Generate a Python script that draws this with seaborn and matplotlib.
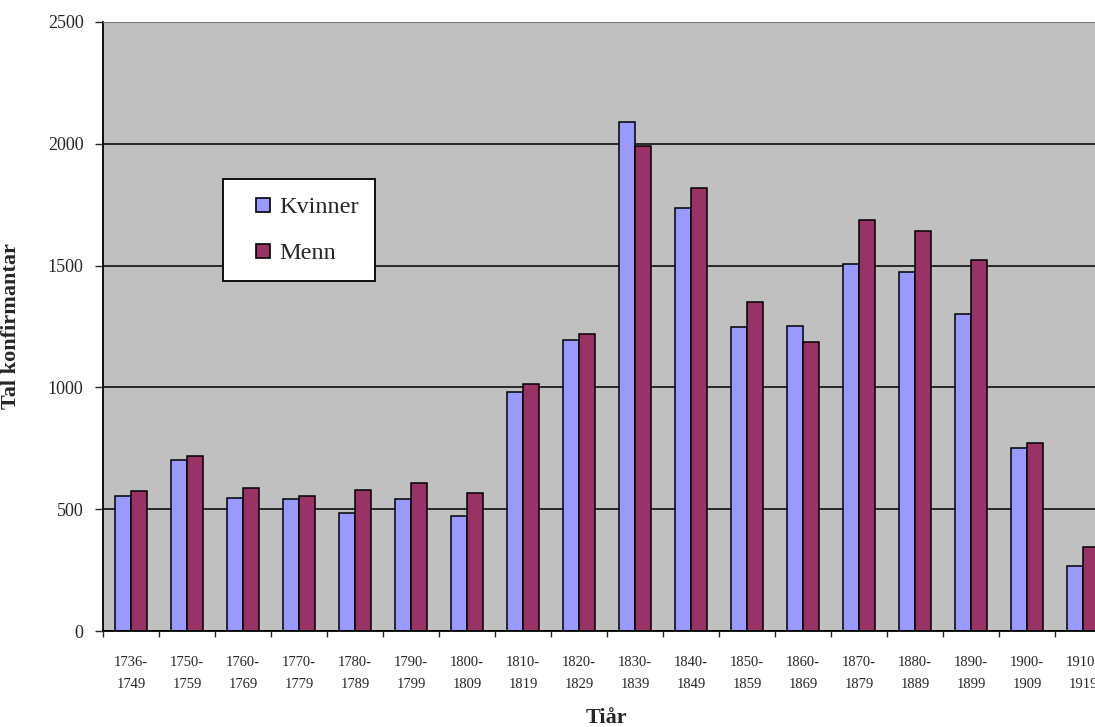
import matplotlib
matplotlib.use("Agg")
import matplotlib.pyplot as plt
import numpy as np
import pandas as pd
import seaborn as sns
from matplotlib.lines import Line2D

# Data
decades = ["1736-\n1749", "1750-\n1759", "1760-\n1769", "1770-\n1779", "1780-\n1789",
           "1790-\n1799", "1800-\n1809", "1810-\n1819", "1820-\n1829", "1830-\n1839",
           "1840-\n1849", "1850-\n1859", "1860-\n1869", "1870-\n1879", "1880-\n1889",
           "1890-\n1899", "1900-\n1909", "1910-\n1919"]
kvinner = [555, 703, 548, 540, 483, 540, 473, 982, 1195, 2089, 1736, 1246, 1254, 1507, 1475, 1302, 753, 268]
menn = [573, 720, 589, 555, 580, 606, 565, 1014, 1220, 1993, 1819, 1350, 1186, 1688, 1640, 1524, 770, 343]
series = ["Kvinner", "Menn"]
colors = ["#9999FF", "#993366"]

df = pd.DataFrame({
    "Tiår": decades * 2,
    "Tal": kvinner + menn,
    "Kjønn": [series[0]] * len(decades) + [series[1]] * len(decades),
})

sns.set_style("white")
plt.rcParams["font.family"] = ["Liberation Serif", "DejaVu Serif"]

fig = plt.figure(figsize=(10.95, 7.27), dpi=100)
# plot area runs past the right edge of the picture, as in the original
ax = fig.add_axes([103 / 1095, 1 - 631 / 727, 1008 / 1095, 609 / 727])
ax.set_facecolor("#C0C0C0")

sns.barplot(data=df, x="Tiår", y="Tal", hue="Kjønn", hue_order=series,
            palette=colors, width=0.58, gap=0, edgecolor="black", linewidth=1.1,
            saturation=1, legend=False, ax=ax)

ax.set_ylim(0, 2500)
ax.set_xlim(-0.5, len(decades) - 0.5)
ax.set_yticks(np.arange(0, 2501, 500))
ax.yaxis.grid(True, color="black", linewidth=1.1)
ax.set_axisbelow(True)

ax.spines["right"].set_visible(False)
ax.spines["top"].set_color("#808080")
ax.spines["left"].set_linewidth(1.3)
ax.spines["bottom"].set_linewidth(1.3)
ax.spines["left"].set_color("black")
ax.spines["bottom"].set_color("black")

ax.set_xticks(np.arange(-0.5, len(decades), 1), minor=True)
ax.tick_params(axis="x", which="major", length=0, pad=18, labelsize=10.5)
ax.tick_params(axis="x", which="minor", length=4, width=1, direction="out", bottom=True)
ax.tick_params(axis="y", which="major", length=6, width=1, direction="out", left=True,
               pad=8, labelsize=13)
for lab in ax.get_xticklabels():
    lab.set_linespacing(1.9)

ax.set_xlabel("Tiår", fontsize=16, fontweight="bold")
ax.set_ylabel("Tal konfirmantar", fontsize=16, fontweight="bold")
ax.xaxis.set_label_coords(0.5, -0.127)
ax.yaxis.set_label_coords(-0.0815, 0.5)

handles = [Line2D([], [], marker="s", linestyle="none", markersize=9.5,
                  markerfacecolor=c, markeredgecolor="black", markeredgewidth=1.2)
           for c in colors]
leg = fig.legend(handles, series, loc="upper left", bbox_to_anchor=(223 / 1095, 1 - 179 / 727),
                 fontsize=17.5, frameon=True, fancybox=False, framealpha=1,
                 edgecolor="black", borderpad=0.7, labelspacing=1.0,
                 handlelength=1.9, handletextpad=-0.3, borderaxespad=0)
leg.get_frame().set_linewidth(1.3)

fig.savefig("out.png", dpi=100)
